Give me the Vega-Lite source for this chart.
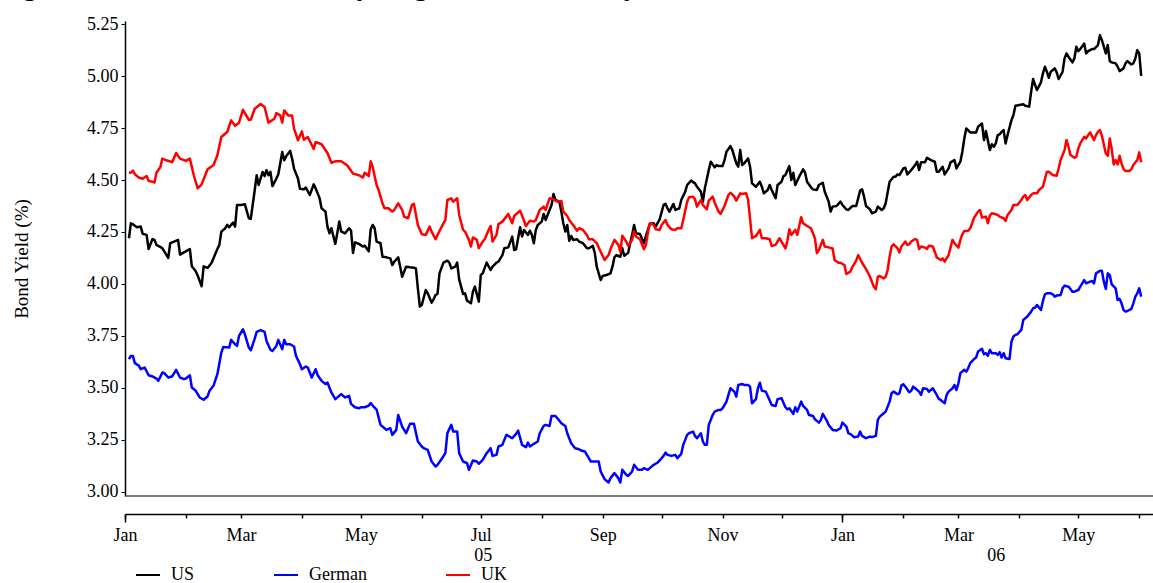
{
  "$schema": "https://vega.github.io/schema/vega-lite/v6.json",
  "width": 1028,
  "height": 475,
  "autosize": "none",
  "padding": {"left": 125, "top": 21, "right": 0, "bottom": 87},
  "background": "white",
  "config": {"view": {"stroke": null}, "font": "Liberation Serif"},
  "title": {
    "text": "Fig.6: US, UK and German 10-year government bond yields",
    "anchor": "start",
    "frame": "group",
    "font": "Liberation Serif",
    "fontSize": 27,
    "fontWeight": "bold",
    "color": "black",
    "offset": 0,
    "dx": -126,
    "dy": 7,
    "baseline": "alphabetic"
  },
  "data": {
    "values": [
      {"s":"US","d":"2005-01-03","v":4.220},{"s":"US","d":"2005-01-04","v":4.292},{"s":"US","d":"2005-01-05","v":4.287},{"s":"US","d":"2005-01-07","v":4.273},{"s":"US","d":"2005-01-09","v":4.276},{"s":"US","d":"2005-01-10","v":4.241},{"s":"US","d":"2005-01-12","v":4.236},{"s":"US","d":"2005-01-13","v":4.168},{"s":"US","d":"2005-01-15","v":4.216},{"s":"US","d":"2005-01-16","v":4.212},{"s":"US","d":"2005-01-17","v":4.188},{"s":"US","d":"2005-01-20","v":4.172},{"s":"US","d":"2005-01-21","v":4.157},{"s":"US","d":"2005-01-23","v":4.125},{"s":"US","d":"2005-01-24","v":4.196},{"s":"US","d":"2005-01-26","v":4.204},{"s":"US","d":"2005-01-28","v":4.212},{"s":"US","d":"2005-01-29","v":4.141},{"s":"US","d":"2005-01-31","v":4.152},
      {"s":"US","d":"2005-02-03","v":4.168},{"s":"US","d":"2005-02-04","v":4.085},{"s":"US","d":"2005-02-06","v":4.061},{"s":"US","d":"2005-02-07","v":4.040},{"s":"US","d":"2005-02-09","v":3.989},{"s":"US","d":"2005-02-10","v":4.085},{"s":"US","d":"2005-02-12","v":4.077},{"s":"US","d":"2005-02-14","v":4.101},{"s":"US","d":"2005-02-17","v":4.168},{"s":"US","d":"2005-02-18","v":4.188},{"s":"US","d":"2005-02-19","v":4.252},{"s":"US","d":"2005-02-21","v":4.268},{"s":"US","d":"2005-02-22","v":4.284},{"s":"US","d":"2005-02-23","v":4.273},{"s":"US","d":"2005-02-25","v":4.295},{"s":"US","d":"2005-02-26","v":4.276},{"s":"US","d":"2005-02-27","v":4.380},
      {"s":"US","d":"2005-03-01","v":4.380},{"s":"US","d":"2005-03-03","v":4.383},{"s":"US","d":"2005-03-05","v":4.316},{"s":"US","d":"2005-03-06","v":4.313},{"s":"US","d":"2005-03-08","v":4.452},{"s":"US","d":"2005-03-09","v":4.523},{"s":"US","d":"2005-03-10","v":4.476},{"s":"US","d":"2005-03-12","v":4.539},{"s":"US","d":"2005-03-13","v":4.519},{"s":"US","d":"2005-03-14","v":4.547},{"s":"US","d":"2005-03-15","v":4.523},{"s":"US","d":"2005-03-16","v":4.539},{"s":"US","d":"2005-03-17","v":4.471},{"s":"US","d":"2005-03-19","v":4.507},{"s":"US","d":"2005-03-20","v":4.528},{"s":"US","d":"2005-03-22","v":4.635},{"s":"US","d":"2005-03-23","v":4.595},{"s":"US","d":"2005-03-24","v":4.614},{"s":"US","d":"2005-03-26","v":4.640},{"s":"US","d":"2005-03-27","v":4.603},{"s":"US","d":"2005-03-28","v":4.555},{"s":"US","d":"2005-03-30","v":4.507},{"s":"US","d":"2005-03-31","v":4.458},
      {"s":"US","d":"2005-04-02","v":4.455},{"s":"US","d":"2005-04-03","v":4.464},{"s":"US","d":"2005-04-05","v":4.428},{"s":"US","d":"2005-04-07","v":4.479},{"s":"US","d":"2005-04-08","v":4.460},{"s":"US","d":"2005-04-10","v":4.412},{"s":"US","d":"2005-04-11","v":4.364},{"s":"US","d":"2005-04-13","v":4.348},{"s":"US","d":"2005-04-14","v":4.276},{"s":"US","d":"2005-04-15","v":4.244},{"s":"US","d":"2005-04-16","v":4.268},{"s":"US","d":"2005-04-18","v":4.193},{"s":"US","d":"2005-04-19","v":4.244},{"s":"US","d":"2005-04-20","v":4.300},{"s":"US","d":"2005-04-21","v":4.252},{"s":"US","d":"2005-04-23","v":4.244},{"s":"US","d":"2005-04-25","v":4.268},{"s":"US","d":"2005-04-26","v":4.257},{"s":"US","d":"2005-04-27","v":4.149},{"s":"US","d":"2005-04-28","v":4.200},{"s":"US","d":"2005-04-30","v":4.193},
      {"s":"US","d":"2005-05-02","v":4.180},{"s":"US","d":"2005-05-03","v":4.184},{"s":"US","d":"2005-05-05","v":4.157},{"s":"US","d":"2005-05-06","v":4.263},{"s":"US","d":"2005-05-07","v":4.284},{"s":"US","d":"2005-05-08","v":4.268},{"s":"US","d":"2005-05-09","v":4.204},{"s":"US","d":"2005-05-11","v":4.196},{"s":"US","d":"2005-05-12","v":4.131},{"s":"US","d":"2005-05-14","v":4.128},{"s":"US","d":"2005-05-16","v":4.123},{"s":"US","d":"2005-05-17","v":4.091},{"s":"US","d":"2005-05-18","v":4.107},{"s":"US","d":"2005-05-20","v":4.128},{"s":"US","d":"2005-05-21","v":4.083},{"s":"US","d":"2005-05-22","v":4.035},{"s":"US","d":"2005-05-24","v":4.083},{"s":"US","d":"2005-05-26","v":4.080},{"s":"US","d":"2005-05-28","v":4.078},{"s":"US","d":"2005-05-29","v":4.075},{"s":"US","d":"2005-05-30","v":3.979},{"s":"US","d":"2005-05-31","v":3.891},
      {"s":"US","d":"2005-06-01","v":3.899},{"s":"US","d":"2005-06-03","v":3.971},{"s":"US","d":"2005-06-04","v":3.955},{"s":"US","d":"2005-06-06","v":3.910},{"s":"US","d":"2005-06-07","v":3.926},{"s":"US","d":"2005-06-08","v":3.947},{"s":"US","d":"2005-06-09","v":3.952},{"s":"US","d":"2005-06-10","v":4.051},{"s":"US","d":"2005-06-12","v":4.103},{"s":"US","d":"2005-06-14","v":4.112},{"s":"US","d":"2005-06-15","v":4.103},{"s":"US","d":"2005-06-16","v":4.075},{"s":"US","d":"2005-06-18","v":4.083},{"s":"US","d":"2005-06-19","v":4.103},{"s":"US","d":"2005-06-20","v":4.022},{"s":"US","d":"2005-06-22","v":3.952},{"s":"US","d":"2005-06-23","v":3.955},{"s":"US","d":"2005-06-24","v":3.920},{"s":"US","d":"2005-06-26","v":3.907},{"s":"US","d":"2005-06-27","v":3.963},{"s":"US","d":"2005-06-28","v":3.987},{"s":"US","d":"2005-06-30","v":3.915},
      {"s":"US","d":"2005-07-01","v":4.043},{"s":"US","d":"2005-07-02","v":4.051},{"s":"US","d":"2005-07-04","v":4.103},{"s":"US","d":"2005-07-06","v":4.067},{"s":"US","d":"2005-07-07","v":4.083},{"s":"US","d":"2005-07-09","v":4.103},{"s":"US","d":"2005-07-10","v":4.107},{"s":"US","d":"2005-07-12","v":4.139},{"s":"US","d":"2005-07-13","v":4.172},{"s":"US","d":"2005-07-15","v":4.176},{"s":"US","d":"2005-07-17","v":4.228},{"s":"US","d":"2005-07-18","v":4.163},{"s":"US","d":"2005-07-19","v":4.167},{"s":"US","d":"2005-07-21","v":4.273},{"s":"US","d":"2005-07-22","v":4.228},{"s":"US","d":"2005-07-23","v":4.260},{"s":"US","d":"2005-07-25","v":4.236},{"s":"US","d":"2005-07-26","v":4.256},{"s":"US","d":"2005-07-27","v":4.236},{"s":"US","d":"2005-07-28","v":4.196},{"s":"US","d":"2005-07-29","v":4.260},{"s":"US","d":"2005-07-30","v":4.284},
      {"s":"US","d":"2005-08-01","v":4.300},{"s":"US","d":"2005-08-02","v":4.337},{"s":"US","d":"2005-08-03","v":4.308},{"s":"US","d":"2005-08-04","v":4.332},{"s":"US","d":"2005-08-06","v":4.380},{"s":"US","d":"2005-08-07","v":4.433},{"s":"US","d":"2005-08-08","v":4.404},{"s":"US","d":"2005-08-10","v":4.396},{"s":"US","d":"2005-08-11","v":4.348},{"s":"US","d":"2005-08-12","v":4.292},{"s":"US","d":"2005-08-13","v":4.252},{"s":"US","d":"2005-08-14","v":4.284},{"s":"US","d":"2005-08-15","v":4.208},{"s":"US","d":"2005-08-16","v":4.231},{"s":"US","d":"2005-08-17","v":4.212},{"s":"US","d":"2005-08-19","v":4.215},{"s":"US","d":"2005-08-20","v":4.204},{"s":"US","d":"2005-08-22","v":4.196},{"s":"US","d":"2005-08-24","v":4.172},{"s":"US","d":"2005-08-25","v":4.172},{"s":"US","d":"2005-08-27","v":4.183},{"s":"US","d":"2005-08-28","v":4.150},{"s":"US","d":"2005-08-29","v":4.083},{"s":"US","d":"2005-08-31","v":4.019},
      {"s":"US","d":"2005-09-01","v":4.038},{"s":"US","d":"2005-09-03","v":4.043},{"s":"US","d":"2005-09-05","v":4.051},{"s":"US","d":"2005-09-06","v":4.083},{"s":"US","d":"2005-09-07","v":4.128},{"s":"US","d":"2005-09-08","v":4.139},{"s":"US","d":"2005-09-10","v":4.131},{"s":"US","d":"2005-09-11","v":4.172},{"s":"US","d":"2005-09-12","v":4.136},{"s":"US","d":"2005-09-14","v":4.150},{"s":"US","d":"2005-09-15","v":4.196},{"s":"US","d":"2005-09-16","v":4.236},{"s":"US","d":"2005-09-17","v":4.284},{"s":"US","d":"2005-09-18","v":4.244},{"s":"US","d":"2005-09-20","v":4.240},{"s":"US","d":"2005-09-22","v":4.195},{"s":"US","d":"2005-09-23","v":4.231},{"s":"US","d":"2005-09-25","v":4.288},{"s":"US","d":"2005-09-27","v":4.292},{"s":"US","d":"2005-09-28","v":4.276},{"s":"US","d":"2005-09-30","v":4.311},
      {"s":"US","d":"2005-10-02","v":4.380},{"s":"US","d":"2005-10-03","v":4.385},{"s":"US","d":"2005-10-04","v":4.364},{"s":"US","d":"2005-10-05","v":4.348},{"s":"US","d":"2005-10-07","v":4.385},{"s":"US","d":"2005-10-08","v":4.356},{"s":"US","d":"2005-10-10","v":4.364},{"s":"US","d":"2005-10-11","v":4.404},{"s":"US","d":"2005-10-13","v":4.444},{"s":"US","d":"2005-10-14","v":4.476},{"s":"US","d":"2005-10-16","v":4.497},{"s":"US","d":"2005-10-18","v":4.484},{"s":"US","d":"2005-10-19","v":4.468},{"s":"US","d":"2005-10-21","v":4.444},{"s":"US","d":"2005-10-22","v":4.396},{"s":"US","d":"2005-10-23","v":4.460},{"s":"US","d":"2005-10-25","v":4.548},{"s":"US","d":"2005-10-26","v":4.588},{"s":"US","d":"2005-10-28","v":4.561},{"s":"US","d":"2005-10-29","v":4.572},{"s":"US","d":"2005-10-30","v":4.567},
      {"s":"US","d":"2005-11-01","v":4.567},{"s":"US","d":"2005-11-02","v":4.596},{"s":"US","d":"2005-11-03","v":4.636},{"s":"US","d":"2005-11-05","v":4.663},{"s":"US","d":"2005-11-06","v":4.644},{"s":"US","d":"2005-11-08","v":4.580},{"s":"US","d":"2005-11-09","v":4.564},{"s":"US","d":"2005-11-10","v":4.644},{"s":"US","d":"2005-11-11","v":4.572},{"s":"US","d":"2005-11-12","v":4.580},{"s":"US","d":"2005-11-14","v":4.604},{"s":"US","d":"2005-11-15","v":4.564},{"s":"US","d":"2005-11-16","v":4.484},{"s":"US","d":"2005-11-18","v":4.468},{"s":"US","d":"2005-11-20","v":4.492},{"s":"US","d":"2005-11-21","v":4.468},{"s":"US","d":"2005-11-22","v":4.436},{"s":"US","d":"2005-11-24","v":4.452},{"s":"US","d":"2005-11-25","v":4.476},{"s":"US","d":"2005-11-26","v":4.452},{"s":"US","d":"2005-11-28","v":4.412},{"s":"US","d":"2005-11-29","v":4.476},
      {"s":"US","d":"2005-12-01","v":4.492},{"s":"US","d":"2005-12-02","v":4.519},{"s":"US","d":"2005-12-03","v":4.524},{"s":"US","d":"2005-12-05","v":4.567},{"s":"US","d":"2005-12-06","v":4.500},{"s":"US","d":"2005-12-07","v":4.535},{"s":"US","d":"2005-12-08","v":4.476},{"s":"US","d":"2005-12-10","v":4.516},{"s":"US","d":"2005-12-12","v":4.551},{"s":"US","d":"2005-12-13","v":4.535},{"s":"US","d":"2005-12-14","v":4.492},{"s":"US","d":"2005-12-16","v":4.465},{"s":"US","d":"2005-12-17","v":4.455},{"s":"US","d":"2005-12-19","v":4.452},{"s":"US","d":"2005-12-20","v":4.476},{"s":"US","d":"2005-12-22","v":4.487},{"s":"US","d":"2005-12-23","v":4.444},{"s":"US","d":"2005-12-25","v":4.396},{"s":"US","d":"2005-12-26","v":4.348},{"s":"US","d":"2005-12-27","v":4.372},{"s":"US","d":"2005-12-29","v":4.375},{"s":"US","d":"2005-12-31","v":4.396},
      {"s":"US","d":"2006-01-01","v":4.380},{"s":"US","d":"2006-01-03","v":4.359},{"s":"US","d":"2006-01-04","v":4.356},{"s":"US","d":"2006-01-06","v":4.375},{"s":"US","d":"2006-01-08","v":4.375},{"s":"US","d":"2006-01-10","v":4.449},{"s":"US","d":"2006-01-11","v":4.455},{"s":"US","d":"2006-01-12","v":4.420},{"s":"US","d":"2006-01-13","v":4.375},{"s":"US","d":"2006-01-15","v":4.359},{"s":"US","d":"2006-01-16","v":4.340},{"s":"US","d":"2006-01-18","v":4.348},{"s":"US","d":"2006-01-19","v":4.372},{"s":"US","d":"2006-01-21","v":4.356},{"s":"US","d":"2006-01-22","v":4.364},{"s":"US","d":"2006-01-23","v":4.388},{"s":"US","d":"2006-01-25","v":4.492},{"s":"US","d":"2006-01-27","v":4.516},{"s":"US","d":"2006-01-28","v":4.516},{"s":"US","d":"2006-01-29","v":4.527},{"s":"US","d":"2006-01-30","v":4.524},
      {"s":"US","d":"2006-02-01","v":4.556},{"s":"US","d":"2006-02-02","v":4.559},{"s":"US","d":"2006-02-03","v":4.527},{"s":"US","d":"2006-02-05","v":4.548},{"s":"US","d":"2006-02-07","v":4.572},{"s":"US","d":"2006-02-08","v":4.588},{"s":"US","d":"2006-02-09","v":4.548},{"s":"US","d":"2006-02-10","v":4.585},{"s":"US","d":"2006-02-12","v":4.585},{"s":"US","d":"2006-02-13","v":4.607},{"s":"US","d":"2006-02-15","v":4.596},{"s":"US","d":"2006-02-17","v":4.588},{"s":"US","d":"2006-02-18","v":4.540},{"s":"US","d":"2006-02-19","v":4.540},{"s":"US","d":"2006-02-21","v":4.564},{"s":"US","d":"2006-02-22","v":4.527},{"s":"US","d":"2006-02-24","v":4.556},{"s":"US","d":"2006-02-25","v":4.585},{"s":"US","d":"2006-02-27","v":4.596},{"s":"US","d":"2006-02-28","v":4.556},
      {"s":"US","d":"2006-03-02","v":4.588},{"s":"US","d":"2006-03-03","v":4.636},{"s":"US","d":"2006-03-04","v":4.700},{"s":"US","d":"2006-03-05","v":4.748},{"s":"US","d":"2006-03-07","v":4.729},{"s":"US","d":"2006-03-08","v":4.729},{"s":"US","d":"2006-03-10","v":4.729},{"s":"US","d":"2006-03-11","v":4.756},{"s":"US","d":"2006-03-13","v":4.772},{"s":"US","d":"2006-03-14","v":4.692},{"s":"US","d":"2006-03-15","v":4.736},{"s":"US","d":"2006-03-17","v":4.644},{"s":"US","d":"2006-03-18","v":4.672},{"s":"US","d":"2006-03-19","v":4.660},{"s":"US","d":"2006-03-20","v":4.676},{"s":"US","d":"2006-03-21","v":4.716},{"s":"US","d":"2006-03-22","v":4.720},{"s":"US","d":"2006-03-23","v":4.732},{"s":"US","d":"2006-03-24","v":4.740},{"s":"US","d":"2006-03-25","v":4.676},{"s":"US","d":"2006-03-26","v":4.716},{"s":"US","d":"2006-03-28","v":4.788},{"s":"US","d":"2006-03-29","v":4.813},{"s":"US","d":"2006-03-30","v":4.857},
      {"s":"US","d":"2006-04-01","v":4.861},{"s":"US","d":"2006-04-03","v":4.864},{"s":"US","d":"2006-04-04","v":4.857},{"s":"US","d":"2006-04-06","v":4.853},{"s":"US","d":"2006-04-07","v":4.925},{"s":"US","d":"2006-04-08","v":4.986},{"s":"US","d":"2006-04-09","v":4.957},{"s":"US","d":"2006-04-10","v":4.933},{"s":"US","d":"2006-04-12","v":4.970},{"s":"US","d":"2006-04-13","v":5.013},{"s":"US","d":"2006-04-14","v":5.045},{"s":"US","d":"2006-04-15","v":5.021},{"s":"US","d":"2006-04-16","v":4.992},{"s":"US","d":"2006-04-17","v":5.021},{"s":"US","d":"2006-04-19","v":5.037},{"s":"US","d":"2006-04-20","v":5.018},{"s":"US","d":"2006-04-21","v":4.986},{"s":"US","d":"2006-04-23","v":5.021},{"s":"US","d":"2006-04-24","v":5.085},{"s":"US","d":"2006-04-25","v":5.109},{"s":"US","d":"2006-04-26","v":5.093},{"s":"US","d":"2006-04-28","v":5.066},{"s":"US","d":"2006-04-29","v":5.085},{"s":"US","d":"2006-04-30","v":5.141},
      {"s":"US","d":"2006-05-01","v":5.120},{"s":"US","d":"2006-05-02","v":5.130},{"s":"US","d":"2006-05-04","v":5.157},{"s":"US","d":"2006-05-05","v":5.109},{"s":"US","d":"2006-05-06","v":5.120},{"s":"US","d":"2006-05-08","v":5.130},{"s":"US","d":"2006-05-09","v":5.130},{"s":"US","d":"2006-05-11","v":5.149},{"s":"US","d":"2006-05-12","v":5.197},{"s":"US","d":"2006-05-13","v":5.173},{"s":"US","d":"2006-05-15","v":5.109},{"s":"US","d":"2006-05-16","v":5.149},{"s":"US","d":"2006-05-17","v":5.072},{"s":"US","d":"2006-05-18","v":5.066},{"s":"US","d":"2006-05-20","v":5.061},{"s":"US","d":"2006-05-21","v":5.045},{"s":"US","d":"2006-05-22","v":5.024},{"s":"US","d":"2006-05-24","v":5.037},{"s":"US","d":"2006-05-25","v":5.061},{"s":"US","d":"2006-05-26","v":5.072},{"s":"US","d":"2006-05-28","v":5.056},{"s":"US","d":"2006-05-29","v":5.061},{"s":"US","d":"2006-05-30","v":5.085},{"s":"US","d":"2006-05-31","v":5.125},{"s":"US","d":"2006-06-01","v":5.109},{"s":"US","d":"2006-06-02","v":5.001},

      {"s":"German","d":"2005-01-03","v":3.638},{"s":"German","d":"2005-01-04","v":3.654},{"s":"German","d":"2005-01-05","v":3.654},{"s":"German","d":"2005-01-06","v":3.619},{"s":"German","d":"2005-01-08","v":3.607},{"s":"German","d":"2005-01-09","v":3.590},{"s":"German","d":"2005-01-11","v":3.598},{"s":"German","d":"2005-01-13","v":3.561},{"s":"German","d":"2005-01-15","v":3.555},{"s":"German","d":"2005-01-17","v":3.545},{"s":"German","d":"2005-01-18","v":3.534},{"s":"German","d":"2005-01-20","v":3.574},{"s":"German","d":"2005-01-21","v":3.571},{"s":"German","d":"2005-01-23","v":3.550},{"s":"German","d":"2005-01-25","v":3.555},{"s":"German","d":"2005-01-27","v":3.587},{"s":"German","d":"2005-01-29","v":3.550},{"s":"German","d":"2005-01-31","v":3.542},
      {"s":"German","d":"2005-02-01","v":3.545},{"s":"German","d":"2005-02-03","v":3.561},{"s":"German","d":"2005-02-04","v":3.502},{"s":"German","d":"2005-02-06","v":3.486},{"s":"German","d":"2005-02-08","v":3.454},{"s":"German","d":"2005-02-10","v":3.443},{"s":"German","d":"2005-02-12","v":3.459},{"s":"German","d":"2005-02-13","v":3.486},{"s":"German","d":"2005-02-15","v":3.510},{"s":"German","d":"2005-02-17","v":3.566},{"s":"German","d":"2005-02-19","v":3.670},{"s":"German","d":"2005-02-20","v":3.697},{"s":"German","d":"2005-02-23","v":3.694},{"s":"German","d":"2005-02-24","v":3.731},{"s":"German","d":"2005-02-26","v":3.710},{"s":"German","d":"2005-02-27","v":3.702},{"s":"German","d":"2005-02-28","v":3.750},
      {"s":"German","d":"2005-03-02","v":3.782},{"s":"German","d":"2005-03-03","v":3.758},{"s":"German","d":"2005-03-05","v":3.694},{"s":"German","d":"2005-03-06","v":3.681},{"s":"German","d":"2005-03-08","v":3.737},{"s":"German","d":"2005-03-09","v":3.770},{"s":"German","d":"2005-03-11","v":3.778},{"s":"German","d":"2005-03-13","v":3.770},{"s":"German","d":"2005-03-14","v":3.726},{"s":"German","d":"2005-03-16","v":3.683},{"s":"German","d":"2005-03-17","v":3.678},{"s":"German","d":"2005-03-19","v":3.702},{"s":"German","d":"2005-03-20","v":3.731},{"s":"German","d":"2005-03-22","v":3.686},{"s":"German","d":"2005-03-23","v":3.731},{"s":"German","d":"2005-03-24","v":3.710},{"s":"German","d":"2005-03-26","v":3.710},{"s":"German","d":"2005-03-28","v":3.699},{"s":"German","d":"2005-03-29","v":3.654},{"s":"German","d":"2005-03-31","v":3.614},
      {"s":"German","d":"2005-04-01","v":3.590},{"s":"German","d":"2005-04-03","v":3.603},{"s":"German","d":"2005-04-04","v":3.598},{"s":"German","d":"2005-04-06","v":3.550},{"s":"German","d":"2005-04-08","v":3.590},{"s":"German","d":"2005-04-09","v":3.561},{"s":"German","d":"2005-04-11","v":3.534},{"s":"German","d":"2005-04-13","v":3.518},{"s":"German","d":"2005-04-14","v":3.526},{"s":"German","d":"2005-04-16","v":3.478},{"s":"German","d":"2005-04-18","v":3.446},{"s":"German","d":"2005-04-19","v":3.454},{"s":"German","d":"2005-04-21","v":3.470},{"s":"German","d":"2005-04-23","v":3.454},{"s":"German","d":"2005-04-25","v":3.462},{"s":"German","d":"2005-04-26","v":3.423},{"s":"German","d":"2005-04-28","v":3.407},{"s":"German","d":"2005-04-30","v":3.402},
      {"s":"German","d":"2005-05-01","v":3.407},{"s":"German","d":"2005-05-03","v":3.407},{"s":"German","d":"2005-05-05","v":3.415},{"s":"German","d":"2005-05-06","v":3.427},{"s":"German","d":"2005-05-07","v":3.415},{"s":"German","d":"2005-05-09","v":3.396},{"s":"German","d":"2005-05-11","v":3.322},{"s":"German","d":"2005-05-12","v":3.314},{"s":"German","d":"2005-05-14","v":3.298},{"s":"German","d":"2005-05-16","v":3.306},{"s":"German","d":"2005-05-17","v":3.274},{"s":"German","d":"2005-05-19","v":3.298},{"s":"German","d":"2005-05-20","v":3.370},{"s":"German","d":"2005-05-22","v":3.314},{"s":"German","d":"2005-05-24","v":3.282},{"s":"German","d":"2005-05-26","v":3.327},{"s":"German","d":"2005-05-28","v":3.327},{"s":"German","d":"2005-05-30","v":3.242},
      {"s":"German","d":"2005-06-01","v":3.218},{"s":"German","d":"2005-06-02","v":3.210},{"s":"German","d":"2005-06-04","v":3.202},{"s":"German","d":"2005-06-06","v":3.146},{"s":"German","d":"2005-06-08","v":3.122},{"s":"German","d":"2005-06-09","v":3.130},{"s":"German","d":"2005-06-11","v":3.157},{"s":"German","d":"2005-06-13","v":3.186},{"s":"German","d":"2005-06-14","v":3.282},{"s":"German","d":"2005-06-16","v":3.322},{"s":"German","d":"2005-06-17","v":3.290},{"s":"German","d":"2005-06-19","v":3.290},{"s":"German","d":"2005-06-20","v":3.186},{"s":"German","d":"2005-06-22","v":3.146},{"s":"German","d":"2005-06-24","v":3.138},{"s":"German","d":"2005-06-25","v":3.106},{"s":"German","d":"2005-06-27","v":3.151},{"s":"German","d":"2005-06-29","v":3.146},{"s":"German","d":"2005-06-30","v":3.135},
      {"s":"German","d":"2005-07-02","v":3.154},{"s":"German","d":"2005-07-04","v":3.186},{"s":"German","d":"2005-07-06","v":3.210},{"s":"German","d":"2005-07-07","v":3.173},{"s":"German","d":"2005-07-09","v":3.178},{"s":"German","d":"2005-07-10","v":3.218},{"s":"German","d":"2005-07-12","v":3.226},{"s":"German","d":"2005-07-14","v":3.274},{"s":"German","d":"2005-07-15","v":3.269},{"s":"German","d":"2005-07-17","v":3.258},{"s":"German","d":"2005-07-19","v":3.279},{"s":"German","d":"2005-07-20","v":3.295},{"s":"German","d":"2005-07-22","v":3.226},{"s":"German","d":"2005-07-24","v":3.215},{"s":"German","d":"2005-07-25","v":3.237},{"s":"German","d":"2005-07-26","v":3.218},{"s":"German","d":"2005-07-28","v":3.231},{"s":"German","d":"2005-07-30","v":3.242},{"s":"German","d":"2005-07-31","v":3.282},
      {"s":"German","d":"2005-08-02","v":3.317},{"s":"German","d":"2005-08-03","v":3.322},{"s":"German","d":"2005-08-05","v":3.317},{"s":"German","d":"2005-08-06","v":3.365},{"s":"German","d":"2005-08-08","v":3.365},{"s":"German","d":"2005-08-09","v":3.354},{"s":"German","d":"2005-08-11","v":3.330},{"s":"German","d":"2005-08-13","v":3.317},{"s":"German","d":"2005-08-14","v":3.282},{"s":"German","d":"2005-08-16","v":3.234},{"s":"German","d":"2005-08-18","v":3.210},{"s":"German","d":"2005-08-20","v":3.205},{"s":"German","d":"2005-08-21","v":3.199},{"s":"German","d":"2005-08-23","v":3.194},{"s":"German","d":"2005-08-25","v":3.162},{"s":"German","d":"2005-08-26","v":3.146},{"s":"German","d":"2005-08-28","v":3.146},{"s":"German","d":"2005-08-30","v":3.146},{"s":"German","d":"2005-08-31","v":3.098},
      {"s":"German","d":"2005-09-02","v":3.061},{"s":"German","d":"2005-09-04","v":3.045},{"s":"German","d":"2005-09-05","v":3.066},{"s":"German","d":"2005-09-07","v":3.090},{"s":"German","d":"2005-09-09","v":3.066},{"s":"German","d":"2005-09-10","v":3.045},{"s":"German","d":"2005-09-11","v":3.106},{"s":"German","d":"2005-09-13","v":3.082},{"s":"German","d":"2005-09-14","v":3.077},{"s":"German","d":"2005-09-16","v":3.098},{"s":"German","d":"2005-09-17","v":3.130},{"s":"German","d":"2005-09-19","v":3.106},{"s":"German","d":"2005-09-21","v":3.106},{"s":"German","d":"2005-09-22","v":3.114},{"s":"German","d":"2005-09-24","v":3.106},{"s":"German","d":"2005-09-25","v":3.114},{"s":"German","d":"2005-09-27","v":3.130},{"s":"German","d":"2005-09-29","v":3.141},{"s":"German","d":"2005-09-30","v":3.151},
      {"s":"German","d":"2005-10-02","v":3.173},{"s":"German","d":"2005-10-03","v":3.189},{"s":"German","d":"2005-10-04","v":3.178},{"s":"German","d":"2005-10-06","v":3.173},{"s":"German","d":"2005-10-08","v":3.178},{"s":"German","d":"2005-10-09","v":3.162},{"s":"German","d":"2005-10-11","v":3.183},{"s":"German","d":"2005-10-12","v":3.226},{"s":"German","d":"2005-10-14","v":3.274},{"s":"German","d":"2005-10-15","v":3.282},{"s":"German","d":"2005-10-17","v":3.290},{"s":"German","d":"2005-10-18","v":3.269},{"s":"German","d":"2005-10-19","v":3.258},{"s":"German","d":"2005-10-21","v":3.282},{"s":"German","d":"2005-10-22","v":3.242},{"s":"German","d":"2005-10-23","v":3.226},{"s":"German","d":"2005-10-24","v":3.226},{"s":"German","d":"2005-10-25","v":3.322},{"s":"German","d":"2005-10-27","v":3.370},{"s":"German","d":"2005-10-28","v":3.386},{"s":"German","d":"2005-10-30","v":3.394},{"s":"German","d":"2005-10-31","v":3.394},
      {"s":"German","d":"2005-11-01","v":3.402},{"s":"German","d":"2005-11-03","v":3.434},{"s":"German","d":"2005-11-04","v":3.466},{"s":"German","d":"2005-11-05","v":3.498},{"s":"German","d":"2005-11-07","v":3.482},{"s":"German","d":"2005-11-08","v":3.458},{"s":"German","d":"2005-11-09","v":3.514},{"s":"German","d":"2005-11-11","v":3.519},{"s":"German","d":"2005-11-12","v":3.514},{"s":"German","d":"2005-11-14","v":3.514},{"s":"German","d":"2005-11-15","v":3.506},{"s":"German","d":"2005-11-16","v":3.426},{"s":"German","d":"2005-11-18","v":3.446},{"s":"German","d":"2005-11-19","v":3.498},{"s":"German","d":"2005-11-20","v":3.525},{"s":"German","d":"2005-11-21","v":3.487},{"s":"German","d":"2005-11-23","v":3.482},{"s":"German","d":"2005-11-25","v":3.439},{"s":"German","d":"2005-11-26","v":3.418},{"s":"German","d":"2005-11-28","v":3.413},{"s":"German","d":"2005-11-29","v":3.446},
      {"s":"German","d":"2005-12-01","v":3.450},{"s":"German","d":"2005-12-03","v":3.407},{"s":"German","d":"2005-12-04","v":3.397},{"s":"German","d":"2005-12-05","v":3.402},{"s":"German","d":"2005-12-07","v":3.375},{"s":"German","d":"2005-12-08","v":3.407},{"s":"German","d":"2005-12-09","v":3.386},{"s":"German","d":"2005-12-11","v":3.434},{"s":"German","d":"2005-12-12","v":3.413},{"s":"German","d":"2005-12-14","v":3.394},{"s":"German","d":"2005-12-15","v":3.370},{"s":"German","d":"2005-12-17","v":3.365},{"s":"German","d":"2005-12-18","v":3.349},{"s":"German","d":"2005-12-20","v":3.333},{"s":"German","d":"2005-12-21","v":3.346},{"s":"German","d":"2005-12-22","v":3.375},{"s":"German","d":"2005-12-24","v":3.343},{"s":"German","d":"2005-12-25","v":3.322},{"s":"German","d":"2005-12-27","v":3.298},{"s":"German","d":"2005-12-29","v":3.295},{"s":"German","d":"2005-12-31","v":3.306},
      {"s":"German","d":"2006-01-01","v":3.333},{"s":"German","d":"2006-01-03","v":3.314},{"s":"German","d":"2006-01-04","v":3.282},{"s":"German","d":"2006-01-05","v":3.279},{"s":"German","d":"2006-01-07","v":3.263},{"s":"German","d":"2006-01-09","v":3.266},{"s":"German","d":"2006-01-10","v":3.290},{"s":"German","d":"2006-01-11","v":3.269},{"s":"German","d":"2006-01-13","v":3.258},{"s":"German","d":"2006-01-15","v":3.266},{"s":"German","d":"2006-01-16","v":3.263},{"s":"German","d":"2006-01-18","v":3.269},{"s":"German","d":"2006-01-19","v":3.346},{"s":"German","d":"2006-01-20","v":3.362},{"s":"German","d":"2006-01-22","v":3.378},{"s":"German","d":"2006-01-23","v":3.386},{"s":"German","d":"2006-01-25","v":3.434},{"s":"German","d":"2006-01-26","v":3.474},{"s":"German","d":"2006-01-27","v":3.482},{"s":"German","d":"2006-01-29","v":3.470},{"s":"German","d":"2006-01-30","v":3.474},{"s":"German","d":"2006-01-31","v":3.511},
      {"s":"German","d":"2006-02-01","v":3.518},{"s":"German","d":"2006-02-02","v":3.506},{"s":"German","d":"2006-02-04","v":3.479},{"s":"German","d":"2006-02-05","v":3.486},{"s":"German","d":"2006-02-06","v":3.506},{"s":"German","d":"2006-02-07","v":3.498},{"s":"German","d":"2006-02-09","v":3.482},{"s":"German","d":"2006-02-10","v":3.466},{"s":"German","d":"2006-02-11","v":3.498},{"s":"German","d":"2006-02-13","v":3.495},{"s":"German","d":"2006-02-14","v":3.482},{"s":"German","d":"2006-02-15","v":3.490},{"s":"German","d":"2006-02-16","v":3.498},{"s":"German","d":"2006-02-18","v":3.466},{"s":"German","d":"2006-02-19","v":3.447},{"s":"German","d":"2006-02-20","v":3.442},{"s":"German","d":"2006-02-22","v":3.426},{"s":"German","d":"2006-02-23","v":3.466},{"s":"German","d":"2006-02-24","v":3.482},{"s":"German","d":"2006-02-26","v":3.498},{"s":"German","d":"2006-02-27","v":3.514},{"s":"German","d":"2006-02-28","v":3.490},
      {"s":"German","d":"2006-03-01","v":3.522},{"s":"German","d":"2006-03-02","v":3.571},{"s":"German","d":"2006-03-04","v":3.587},{"s":"German","d":"2006-03-05","v":3.578},{"s":"German","d":"2006-03-06","v":3.595},{"s":"German","d":"2006-03-07","v":3.619},{"s":"German","d":"2006-03-09","v":3.639},{"s":"German","d":"2006-03-10","v":3.646},{"s":"German","d":"2006-03-11","v":3.675},{"s":"German","d":"2006-03-13","v":3.688},{"s":"German","d":"2006-03-14","v":3.662},{"s":"German","d":"2006-03-15","v":3.667},{"s":"German","d":"2006-03-16","v":3.655},{"s":"German","d":"2006-03-17","v":3.683},{"s":"German","d":"2006-03-18","v":3.667},{"s":"German","d":"2006-03-20","v":3.667},{"s":"German","d":"2006-03-21","v":3.659},{"s":"German","d":"2006-03-22","v":3.672},{"s":"German","d":"2006-03-23","v":3.646},{"s":"German","d":"2006-03-24","v":3.667},{"s":"German","d":"2006-03-25","v":3.643},{"s":"German","d":"2006-03-27","v":3.639},{"s":"German","d":"2006-03-28","v":3.723},{"s":"German","d":"2006-03-29","v":3.747},{"s":"German","d":"2006-03-30","v":3.755},{"s":"German","d":"2006-03-31","v":3.758},
      {"s":"German","d":"2006-04-02","v":3.779},{"s":"German","d":"2006-04-03","v":3.827},{"s":"German","d":"2006-04-04","v":3.835},{"s":"German","d":"2006-04-05","v":3.843},{"s":"German","d":"2006-04-07","v":3.867},{"s":"German","d":"2006-04-08","v":3.883},{"s":"German","d":"2006-04-09","v":3.886},{"s":"German","d":"2006-04-10","v":3.899},{"s":"German","d":"2006-04-12","v":3.875},{"s":"German","d":"2006-04-13","v":3.918},{"s":"German","d":"2006-04-14","v":3.950},{"s":"German","d":"2006-04-15","v":3.955},{"s":"German","d":"2006-04-17","v":3.955},{"s":"German","d":"2006-04-18","v":3.950},{"s":"German","d":"2006-04-19","v":3.939},{"s":"German","d":"2006-04-20","v":3.944},{"s":"German","d":"2006-04-22","v":3.947},{"s":"German","d":"2006-04-23","v":3.979},{"s":"German","d":"2006-04-24","v":3.992},{"s":"German","d":"2006-04-26","v":3.987},{"s":"German","d":"2006-04-27","v":3.976},{"s":"German","d":"2006-04-28","v":3.963},{"s":"German","d":"2006-04-29","v":3.963},
      {"s":"German","d":"2006-05-01","v":3.971},{"s":"German","d":"2006-05-02","v":3.987},{"s":"German","d":"2006-05-03","v":4.003},{"s":"German","d":"2006-05-04","v":4.019},{"s":"German","d":"2006-05-05","v":4.003},{"s":"German","d":"2006-05-07","v":4.011},{"s":"German","d":"2006-05-08","v":4.014},{"s":"German","d":"2006-05-09","v":4.003},{"s":"German","d":"2006-05-10","v":4.051},{"s":"German","d":"2006-05-12","v":4.063},{"s":"German","d":"2006-05-13","v":4.063},{"s":"German","d":"2006-05-14","v":4.011},{"s":"German","d":"2006-05-15","v":3.976},{"s":"German","d":"2006-05-16","v":4.051},{"s":"German","d":"2006-05-17","v":4.043},{"s":"German","d":"2006-05-18","v":3.998},{"s":"German","d":"2006-05-20","v":3.979},{"s":"German","d":"2006-05-21","v":3.923},{"s":"German","d":"2006-05-22","v":3.928},{"s":"German","d":"2006-05-23","v":3.907},{"s":"German","d":"2006-05-24","v":3.875},{"s":"German","d":"2006-05-25","v":3.867},{"s":"German","d":"2006-05-26","v":3.870},{"s":"German","d":"2006-05-28","v":3.880},{"s":"German","d":"2006-05-29","v":3.907},{"s":"German","d":"2006-05-30","v":3.939},{"s":"German","d":"2006-05-31","v":3.955},{"s":"German","d":"2006-06-01","v":3.979},{"s":"German","d":"2006-06-02","v":3.939},

      {"s":"UK","d":"2005-01-03","v":4.536},{"s":"UK","d":"2005-01-04","v":4.535},{"s":"UK","d":"2005-01-05","v":4.546},{"s":"UK","d":"2005-01-06","v":4.528},{"s":"UK","d":"2005-01-08","v":4.512},{"s":"UK","d":"2005-01-10","v":4.506},{"s":"UK","d":"2005-01-12","v":4.519},{"s":"UK","d":"2005-01-13","v":4.496},{"s":"UK","d":"2005-01-15","v":4.492},{"s":"UK","d":"2005-01-16","v":4.488},{"s":"UK","d":"2005-01-17","v":4.535},{"s":"UK","d":"2005-01-19","v":4.563},{"s":"UK","d":"2005-01-20","v":4.603},{"s":"UK","d":"2005-01-22","v":4.595},{"s":"UK","d":"2005-01-25","v":4.586},{"s":"UK","d":"2005-01-27","v":4.630},{"s":"UK","d":"2005-01-29","v":4.603},
      {"s":"UK","d":"2005-02-01","v":4.592},{"s":"UK","d":"2005-02-03","v":4.603},{"s":"UK","d":"2005-02-05","v":4.523},{"s":"UK","d":"2005-02-07","v":4.460},{"s":"UK","d":"2005-02-09","v":4.479},{"s":"UK","d":"2005-02-12","v":4.552},{"s":"UK","d":"2005-02-15","v":4.571},{"s":"UK","d":"2005-02-17","v":4.619},{"s":"UK","d":"2005-02-19","v":4.707},{"s":"UK","d":"2005-02-22","v":4.731},{"s":"UK","d":"2005-02-24","v":4.787},{"s":"UK","d":"2005-02-26","v":4.761},{"s":"UK","d":"2005-02-28","v":4.776},
      {"s":"UK","d":"2005-03-02","v":4.838},{"s":"UK","d":"2005-03-05","v":4.790},{"s":"UK","d":"2005-03-06","v":4.790},{"s":"UK","d":"2005-03-08","v":4.843},{"s":"UK","d":"2005-03-11","v":4.866},{"s":"UK","d":"2005-03-13","v":4.851},{"s":"UK","d":"2005-03-15","v":4.776},{"s":"UK","d":"2005-03-18","v":4.795},{"s":"UK","d":"2005-03-19","v":4.822},{"s":"UK","d":"2005-03-21","v":4.811},{"s":"UK","d":"2005-03-22","v":4.776},{"s":"UK","d":"2005-03-23","v":4.835},{"s":"UK","d":"2005-03-25","v":4.811},{"s":"UK","d":"2005-03-27","v":4.811},{"s":"UK","d":"2005-03-28","v":4.747},{"s":"UK","d":"2005-03-30","v":4.691},
      {"s":"UK","d":"2005-04-01","v":4.734},{"s":"UK","d":"2005-04-02","v":4.694},{"s":"UK","d":"2005-04-04","v":4.707},{"s":"UK","d":"2005-04-05","v":4.688},{"s":"UK","d":"2005-04-07","v":4.650},{"s":"UK","d":"2005-04-08","v":4.683},{"s":"UK","d":"2005-04-11","v":4.672},{"s":"UK","d":"2005-04-14","v":4.630},{"s":"UK","d":"2005-04-16","v":4.583},{"s":"UK","d":"2005-04-18","v":4.590},{"s":"UK","d":"2005-04-21","v":4.590},{"s":"UK","d":"2005-04-24","v":4.571},{"s":"UK","d":"2005-04-27","v":4.531},{"s":"UK","d":"2005-04-30","v":4.523},
      {"s":"UK","d":"2005-05-02","v":4.512},{"s":"UK","d":"2005-05-03","v":4.535},{"s":"UK","d":"2005-05-05","v":4.519},{"s":"UK","d":"2005-05-06","v":4.590},{"s":"UK","d":"2005-05-07","v":4.563},{"s":"UK","d":"2005-05-09","v":4.476},{"s":"UK","d":"2005-05-10","v":4.452},{"s":"UK","d":"2005-05-11","v":4.420},{"s":"UK","d":"2005-05-12","v":4.388},{"s":"UK","d":"2005-05-13","v":4.364},{"s":"UK","d":"2005-05-15","v":4.364},{"s":"UK","d":"2005-05-17","v":4.348},{"s":"UK","d":"2005-05-18","v":4.356},{"s":"UK","d":"2005-05-20","v":4.388},{"s":"UK","d":"2005-05-22","v":4.356},{"s":"UK","d":"2005-05-23","v":4.324},{"s":"UK","d":"2005-05-25","v":4.316},{"s":"UK","d":"2005-05-27","v":4.380},{"s":"UK","d":"2005-05-28","v":4.385},{"s":"UK","d":"2005-05-30","v":4.284},
      {"s":"UK","d":"2005-06-01","v":4.239},{"s":"UK","d":"2005-06-03","v":4.236},{"s":"UK","d":"2005-06-05","v":4.276},{"s":"UK","d":"2005-06-06","v":4.252},{"s":"UK","d":"2005-06-08","v":4.215},{"s":"UK","d":"2005-06-09","v":4.236},{"s":"UK","d":"2005-06-11","v":4.273},{"s":"UK","d":"2005-06-13","v":4.308},{"s":"UK","d":"2005-06-14","v":4.404},{"s":"UK","d":"2005-06-16","v":4.412},{"s":"UK","d":"2005-06-17","v":4.396},{"s":"UK","d":"2005-06-19","v":4.412},{"s":"UK","d":"2005-06-20","v":4.332},{"s":"UK","d":"2005-06-22","v":4.260},{"s":"UK","d":"2005-06-23","v":4.252},{"s":"UK","d":"2005-06-25","v":4.212},{"s":"UK","d":"2005-06-26","v":4.180},{"s":"UK","d":"2005-06-27","v":4.224},{"s":"UK","d":"2005-06-29","v":4.212},{"s":"UK","d":"2005-06-30","v":4.172},
      {"s":"UK","d":"2005-07-02","v":4.204},{"s":"UK","d":"2005-07-03","v":4.215},{"s":"UK","d":"2005-07-05","v":4.260},{"s":"UK","d":"2005-07-06","v":4.279},{"s":"UK","d":"2005-07-07","v":4.204},{"s":"UK","d":"2005-07-09","v":4.236},{"s":"UK","d":"2005-07-10","v":4.288},{"s":"UK","d":"2005-07-12","v":4.300},{"s":"UK","d":"2005-07-13","v":4.312},{"s":"UK","d":"2005-07-15","v":4.337},{"s":"UK","d":"2005-07-17","v":4.292},{"s":"UK","d":"2005-07-18","v":4.327},{"s":"UK","d":"2005-07-21","v":4.353},{"s":"UK","d":"2005-07-23","v":4.304},{"s":"UK","d":"2005-07-24","v":4.279},{"s":"UK","d":"2005-07-26","v":4.304},{"s":"UK","d":"2005-07-28","v":4.300},{"s":"UK","d":"2005-07-29","v":4.308},{"s":"UK","d":"2005-07-31","v":4.356},
      {"s":"UK","d":"2005-08-02","v":4.372},{"s":"UK","d":"2005-08-03","v":4.356},{"s":"UK","d":"2005-08-05","v":4.412},{"s":"UK","d":"2005-08-07","v":4.407},{"s":"UK","d":"2005-08-09","v":4.396},{"s":"UK","d":"2005-08-11","v":4.399},{"s":"UK","d":"2005-08-12","v":4.348},{"s":"UK","d":"2005-08-14","v":4.327},{"s":"UK","d":"2005-08-15","v":4.308},{"s":"UK","d":"2005-08-17","v":4.284},{"s":"UK","d":"2005-08-19","v":4.256},{"s":"UK","d":"2005-08-20","v":4.268},{"s":"UK","d":"2005-08-22","v":4.260},{"s":"UK","d":"2005-08-24","v":4.236},{"s":"UK","d":"2005-08-25","v":4.215},{"s":"UK","d":"2005-08-27","v":4.215},{"s":"UK","d":"2005-08-29","v":4.196},{"s":"UK","d":"2005-08-31","v":4.155},
      {"s":"UK","d":"2005-09-02","v":4.115},{"s":"UK","d":"2005-09-04","v":4.139},{"s":"UK","d":"2005-09-05","v":4.167},{"s":"UK","d":"2005-09-07","v":4.212},{"s":"UK","d":"2005-09-09","v":4.188},{"s":"UK","d":"2005-09-10","v":4.155},{"s":"UK","d":"2005-09-11","v":4.232},{"s":"UK","d":"2005-09-13","v":4.204},{"s":"UK","d":"2005-09-14","v":4.183},{"s":"UK","d":"2005-09-16","v":4.212},{"s":"UK","d":"2005-09-17","v":4.252},{"s":"UK","d":"2005-09-18","v":4.228},{"s":"UK","d":"2005-09-20","v":4.215},{"s":"UK","d":"2005-09-22","v":4.167},{"s":"UK","d":"2005-09-23","v":4.188},{"s":"UK","d":"2005-09-24","v":4.244},{"s":"UK","d":"2005-09-25","v":4.292},{"s":"UK","d":"2005-09-27","v":4.284},{"s":"UK","d":"2005-09-28","v":4.263},{"s":"UK","d":"2005-09-30","v":4.260},
      {"s":"UK","d":"2005-10-01","v":4.284},{"s":"UK","d":"2005-10-03","v":4.308},{"s":"UK","d":"2005-10-04","v":4.284},{"s":"UK","d":"2005-10-06","v":4.263},{"s":"UK","d":"2005-10-08","v":4.260},{"s":"UK","d":"2005-10-09","v":4.268},{"s":"UK","d":"2005-10-11","v":4.268},{"s":"UK","d":"2005-10-12","v":4.308},{"s":"UK","d":"2005-10-14","v":4.396},{"s":"UK","d":"2005-10-15","v":4.417},{"s":"UK","d":"2005-10-17","v":4.420},{"s":"UK","d":"2005-10-18","v":4.407},{"s":"UK","d":"2005-10-19","v":4.372},{"s":"UK","d":"2005-10-21","v":4.404},{"s":"UK","d":"2005-10-22","v":4.380},{"s":"UK","d":"2005-10-24","v":4.359},{"s":"UK","d":"2005-10-25","v":4.401},{"s":"UK","d":"2005-10-27","v":4.420},{"s":"UK","d":"2005-10-28","v":4.391},{"s":"UK","d":"2005-10-30","v":4.348},{"s":"UK","d":"2005-10-31","v":4.337},
      {"s":"UK","d":"2005-11-02","v":4.375},{"s":"UK","d":"2005-11-04","v":4.428},{"s":"UK","d":"2005-11-05","v":4.439},{"s":"UK","d":"2005-11-07","v":4.420},{"s":"UK","d":"2005-11-08","v":4.401},{"s":"UK","d":"2005-11-10","v":4.436},{"s":"UK","d":"2005-11-11","v":4.433},{"s":"UK","d":"2005-11-13","v":4.436},{"s":"UK","d":"2005-11-14","v":4.404},{"s":"UK","d":"2005-11-16","v":4.220},{"s":"UK","d":"2005-11-18","v":4.231},{"s":"UK","d":"2005-11-20","v":4.260},{"s":"UK","d":"2005-11-21","v":4.220},{"s":"UK","d":"2005-11-23","v":4.220},{"s":"UK","d":"2005-11-25","v":4.215},{"s":"UK","d":"2005-11-26","v":4.183},{"s":"UK","d":"2005-11-28","v":4.188},{"s":"UK","d":"2005-11-30","v":4.220},
      {"s":"UK","d":"2005-12-01","v":4.204},{"s":"UK","d":"2005-12-03","v":4.171},{"s":"UK","d":"2005-12-04","v":4.208},{"s":"UK","d":"2005-12-05","v":4.263},{"s":"UK","d":"2005-12-06","v":4.236},{"s":"UK","d":"2005-12-08","v":4.260},{"s":"UK","d":"2005-12-09","v":4.236},{"s":"UK","d":"2005-12-11","v":4.321},{"s":"UK","d":"2005-12-12","v":4.292},{"s":"UK","d":"2005-12-14","v":4.279},{"s":"UK","d":"2005-12-16","v":4.268},{"s":"UK","d":"2005-12-18","v":4.220},{"s":"UK","d":"2005-12-19","v":4.148},{"s":"UK","d":"2005-12-20","v":4.163},{"s":"UK","d":"2005-12-22","v":4.212},{"s":"UK","d":"2005-12-23","v":4.180},{"s":"UK","d":"2005-12-25","v":4.176},{"s":"UK","d":"2005-12-27","v":4.171},{"s":"UK","d":"2005-12-28","v":4.115},{"s":"UK","d":"2005-12-30","v":4.102},{"s":"UK","d":"2005-12-31","v":4.102},
      {"s":"UK","d":"2006-01-02","v":4.091},{"s":"UK","d":"2006-01-03","v":4.048},{"s":"UK","d":"2006-01-05","v":4.059},{"s":"UK","d":"2006-01-06","v":4.080},{"s":"UK","d":"2006-01-08","v":4.112},{"s":"UK","d":"2006-01-09","v":4.139},{"s":"UK","d":"2006-01-11","v":4.102},{"s":"UK","d":"2006-01-13","v":4.071},{"s":"UK","d":"2006-01-14","v":4.054},{"s":"UK","d":"2006-01-15","v":4.035},{"s":"UK","d":"2006-01-17","v":3.987},{"s":"UK","d":"2006-01-18","v":3.975},{"s":"UK","d":"2006-01-19","v":4.035},{"s":"UK","d":"2006-01-20","v":4.038},{"s":"UK","d":"2006-01-22","v":4.027},{"s":"UK","d":"2006-01-23","v":4.035},{"s":"UK","d":"2006-01-24","v":4.067},{"s":"UK","d":"2006-01-25","v":4.131},{"s":"UK","d":"2006-01-26","v":4.180},{"s":"UK","d":"2006-01-27","v":4.191},{"s":"UK","d":"2006-01-29","v":4.172},{"s":"UK","d":"2006-01-30","v":4.152},{"s":"UK","d":"2006-01-31","v":4.180},
      {"s":"UK","d":"2006-02-02","v":4.204},{"s":"UK","d":"2006-02-03","v":4.188},{"s":"UK","d":"2006-02-04","v":4.191},{"s":"UK","d":"2006-02-05","v":4.204},{"s":"UK","d":"2006-02-07","v":4.216},{"s":"UK","d":"2006-02-08","v":4.212},{"s":"UK","d":"2006-02-09","v":4.168},{"s":"UK","d":"2006-02-10","v":4.180},{"s":"UK","d":"2006-02-12","v":4.175},{"s":"UK","d":"2006-02-13","v":4.168},{"s":"UK","d":"2006-02-14","v":4.184},{"s":"UK","d":"2006-02-16","v":4.180},{"s":"UK","d":"2006-02-17","v":4.155},{"s":"UK","d":"2006-02-18","v":4.127},{"s":"UK","d":"2006-02-20","v":4.115},{"s":"UK","d":"2006-02-21","v":4.123},{"s":"UK","d":"2006-02-22","v":4.107},{"s":"UK","d":"2006-02-24","v":4.139},{"s":"UK","d":"2006-02-25","v":4.175},{"s":"UK","d":"2006-02-26","v":4.212},{"s":"UK","d":"2006-02-27","v":4.196},
      {"s":"UK","d":"2006-03-01","v":4.175},{"s":"UK","d":"2006-03-02","v":4.212},{"s":"UK","d":"2006-03-03","v":4.239},{"s":"UK","d":"2006-03-04","v":4.255},{"s":"UK","d":"2006-03-06","v":4.256},{"s":"UK","d":"2006-03-07","v":4.268},{"s":"UK","d":"2006-03-08","v":4.292},{"s":"UK","d":"2006-03-09","v":4.319},{"s":"UK","d":"2006-03-11","v":4.348},{"s":"UK","d":"2006-03-12","v":4.356},{"s":"UK","d":"2006-03-13","v":4.319},{"s":"UK","d":"2006-03-15","v":4.324},{"s":"UK","d":"2006-03-16","v":4.292},{"s":"UK","d":"2006-03-17","v":4.329},{"s":"UK","d":"2006-03-18","v":4.340},{"s":"UK","d":"2006-03-20","v":4.335},{"s":"UK","d":"2006-03-21","v":4.332},{"s":"UK","d":"2006-03-22","v":4.324},{"s":"UK","d":"2006-03-24","v":4.316},{"s":"UK","d":"2006-03-25","v":4.303},{"s":"UK","d":"2006-03-26","v":4.332},{"s":"UK","d":"2006-03-28","v":4.356},{"s":"UK","d":"2006-03-29","v":4.380},{"s":"UK","d":"2006-03-30","v":4.380},{"s":"UK","d":"2006-03-31","v":4.380},
      {"s":"UK","d":"2006-04-02","v":4.404},{"s":"UK","d":"2006-04-03","v":4.420},{"s":"UK","d":"2006-04-04","v":4.428},{"s":"UK","d":"2006-04-05","v":4.404},{"s":"UK","d":"2006-04-07","v":4.428},{"s":"UK","d":"2006-04-08","v":4.436},{"s":"UK","d":"2006-04-10","v":4.436},{"s":"UK","d":"2006-04-11","v":4.452},{"s":"UK","d":"2006-04-12","v":4.460},{"s":"UK","d":"2006-04-13","v":4.468},{"s":"UK","d":"2006-04-15","v":4.540},{"s":"UK","d":"2006-04-16","v":4.540},{"s":"UK","d":"2006-04-17","v":4.532},{"s":"UK","d":"2006-04-18","v":4.524},{"s":"UK","d":"2006-04-20","v":4.521},{"s":"UK","d":"2006-04-21","v":4.556},{"s":"UK","d":"2006-04-22","v":4.596},{"s":"UK","d":"2006-04-24","v":4.644},{"s":"UK","d":"2006-04-25","v":4.692},{"s":"UK","d":"2006-04-26","v":4.660},{"s":"UK","d":"2006-04-27","v":4.620},{"s":"UK","d":"2006-04-29","v":4.607},{"s":"UK","d":"2006-04-30","v":4.612},
      {"s":"UK","d":"2006-05-01","v":4.652},{"s":"UK","d":"2006-05-02","v":4.676},{"s":"UK","d":"2006-05-04","v":4.708},{"s":"UK","d":"2006-05-05","v":4.700},{"s":"UK","d":"2006-05-06","v":4.716},{"s":"UK","d":"2006-05-07","v":4.729},{"s":"UK","d":"2006-05-09","v":4.692},{"s":"UK","d":"2006-05-10","v":4.716},{"s":"UK","d":"2006-05-11","v":4.732},{"s":"UK","d":"2006-05-12","v":4.740},{"s":"UK","d":"2006-05-13","v":4.713},{"s":"UK","d":"2006-05-15","v":4.628},{"s":"UK","d":"2006-05-16","v":4.617},{"s":"UK","d":"2006-05-17","v":4.700},{"s":"UK","d":"2006-05-18","v":4.649},{"s":"UK","d":"2006-05-19","v":4.575},{"s":"UK","d":"2006-05-20","v":4.596},{"s":"UK","d":"2006-05-21","v":4.575},{"s":"UK","d":"2006-05-22","v":4.617},{"s":"UK","d":"2006-05-23","v":4.580},{"s":"UK","d":"2006-05-24","v":4.553},{"s":"UK","d":"2006-05-25","v":4.543},{"s":"UK","d":"2006-05-27","v":4.543},{"s":"UK","d":"2006-05-28","v":4.553},{"s":"UK","d":"2006-05-29","v":4.572},{"s":"UK","d":"2006-05-31","v":4.596},{"s":"UK","d":"2006-06-01","v":4.633},{"s":"UK","d":"2006-06-02","v":4.585}
    ]
  },
  "layer": [
    {
      "mark": {"type": "line", "strokeWidth": 2.5, "strokeJoin": "round"},
      "encoding": {
        "x": {
          "field": "d",
          "type": "temporal",
          "scale": {"domain": [{"year": 2005, "month": 1, "date": 1}, {"year": 2006, "month": 6, "date": 8}]},
          "axis": {
            "orient": "bottom",
            "offset": 18,
            "title": null,
            "grid": false,
            "tickCount": {"interval": "month", "step": 1},
            "labelExpr": "month(datum.value) % 2 == 0 ? timeFormat(datum.value, '%b') : ''",
            "labelFlush": false,
            "labelOverlap": false,
            "labelFont": "Liberation Serif",
            "labelFontSize": 18,
            "labelColor": "black",
            "labelPadding": 8,
            "tickSize": 4,
            "tickColor": "black",
            "tickWidth": 1.5,
            "domainColor": "black",
            "domainWidth": 1.5
          }
        },
        "y": {
          "field": "v",
          "type": "quantitative",
          "scale": {"domain": [2.98, 5.265], "nice": false, "zero": false},
          "axis": {
            "values": [3, 3.25, 3.5, 3.75, 4, 4.25, 4.5, 4.75, 5, 5.25],
            "format": ".2f",
            "title": "Bond Yield (%)",
            "titleFont": "Liberation Serif",
            "titleFontSize": 19,
            "titleFontWeight": "normal",
            "titleColor": "black",
            "titleAngle": -90,
            "titleX": -104,
            "titleY": 237.5,
            "titleAlign": "center",
            "titleBaseline": "middle",
            "grid": false,
            "labelFont": "Liberation Serif",
            "labelFontSize": 18,
            "labelColor": "black",
            "labelPadding": 3,
            "tickSize": 4,
            "tickColor": "black",
            "domainColor": "black",
            "domainWidth": 1.5
          }
        },
        "color": {
          "field": "s",
          "type": "nominal",
          "scale": {"domain": ["US", "German", "UK"], "range": ["#000000", "#0000ff", "#ff0000"]},
          "legend": {
            "orient": "none",
            "legendX": 10,
            "legendY": 541,
            "direction": "horizontal",
            "title": null,
            "symbolType": "stroke",
            "symbolSize": 576,
            "symbolStrokeWidth": 2,
            "labelFont": "Liberation Serif",
            "labelFontSize": 18,
            "labelColor": "black",
            "labelOffset": 10,
            "columnPadding": 75
          }
        }
      }
    },
    {
      "data": {"values": [{}]},
      "mark": {"type": "rule", "color": "#555555", "strokeWidth": 1.5},
      "encoding": {
        "x": {
          "datum": {"year": 2005, "month": 1, "date": 1},
          "type": "temporal",
          "axis": {
            "orient": "bottom",
            "offset": 18,
            "title": null,
            "grid": false,
            "domain": false,
            "values": [
              {"year": 2005, "month": 1, "date": 1},
              {"year": 2005, "month": 7, "date": 2},
              {"year": 2006, "month": 1, "date": 1},
              {"year": 2006, "month": 3, "date": 20}
            ],
            "labelExpr": "month(datum.value) == 0 && date(datum.value) == 1 ? '' : timeFormat(datum.value, '%y')",
            "labelFlush": false,
            "labelOverlap": false,
            "labelFont": "Liberation Serif",
            "labelFontSize": 18,
            "labelColor": "black",
            "labelPadding": 24,
            "tickSize": 8,
            "tickWidth": 1.5,
            "tickColor": "black",
            "tickOpacity": {"condition": {"test": "month(datum.value) == 0 && date(datum.value) == 1", "value": 1}, "value": 0}
          }
        },
        "x2": {"datum": {"year": 2006, "month": 6, "date": 8}},
        "y": {"datum": 2.98, "type": "quantitative"}
      }
    }
  ],
  "resolve": {"axis": {"x": "independent"}}
}
